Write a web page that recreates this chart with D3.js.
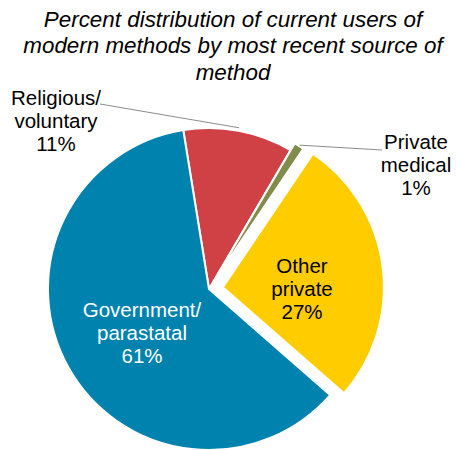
<!DOCTYPE html>
<html>
<head>
<meta charset="utf-8">
<script src="https://cdn.jsdelivr.net/npm/d3@7"></script>
<style>
  html, body { margin: 0; padding: 0; background: #fff; }
  svg { display: block; }
  text { font-family: "Liberation Sans", Arial, sans-serif; }
</style>
</head>
<body>
<svg id="chart" width="467" height="450"></svg>
<script>
// Source of method, in drawing order (clockwise from just left of 12 o'clock)
const categories = ["Religious/ voluntary", "Private medical", "Other private", "Government/ parastatal"];
const labelLines = [["Religious/", "voluntary"], ["Private", "medical"], ["Other", "private"], ["Government/", "parastatal"]];
const shares = [11, 1, 27, 61];
const titleLines = [
  "Percent distribution of current users of",
  "modern methods by most recent source of",
  "method"
];

const colors = ["#d04146", "#7f8c4a", "#ffcc00", "#0082ae"];
const explode = [0, 8, 14, 0];
const textColors = ["#000", "#000", "#000", "#fff"];

const width = 467, height = 450;
const cx = 209, cy = 289, radius = 161;
const startDeg = -9.2;

const svg = d3.select("#chart");

// Title
svg.append("text")
  .attr("x", 233)
  .attr("y", 27)
  .attr("text-anchor", "middle")
  .attr("font-size", 22.4)
  .attr("font-style", "italic")
  .attr("fill", "#000")
  .selectAll("tspan")
  .data(titleLines)
  .join("tspan")
  .attr("x", 233)
  .attr("dy", (d, i) => i === 0 ? 0 : 26.3)
  .text(d => d);

const data = categories.map((c, i) => ({ name: c, lines: labelLines[i], value: shares[i], color: colors[i], off: explode[i], tc: textColors[i] }));

const start = startDeg * Math.PI / 180;
const pie = d3.pie().sort(null).value(d => d.value).startAngle(start).endAngle(start + 2 * Math.PI);
const arcs = pie(data);
const arc = d3.arc().innerRadius(0).outerRadius(radius);

function offsetOf(a) {
  const mid = (a.startAngle + a.endAngle) / 2;
  return [Math.sin(mid) * a.data.off, -Math.cos(mid) * a.data.off];
}

const g = svg.append("g").attr("transform", `translate(${cx},${cy})`);

g.selectAll("path.slice")
  .data(arcs)
  .join("path")
  .attr("class", "slice")
  .attr("transform", a => { const o = offsetOf(a); return `translate(${o[0]},${o[1]})`; })
  .attr("d", arc)
  .attr("fill", a => a.data.color)
  .attr("stroke", "#fff")
  .attr("stroke-width", 2)
  .attr("stroke-linejoin", "round");

// Point on a slice's rim at its middle angle, in page coordinates
function rimPoint(a, r) {
  const mid = (a.startAngle + a.endAngle) / 2;
  const o = offsetOf(a);
  return [cx + o[0] + Math.sin(mid) * r, cy + o[1] - Math.cos(mid) * r];
}

// Label placement: centre x and first baseline of each text block
const labelPos = {
  "Religious/ voluntary": { x: 56, y: 105, leader: [100, 104], rim: 164 },
  "Private medical": { x: 416, y: 149, leader: [382, 150], rim: 162 },
  "Other private": { x: 302, y: 273 },
  "Government/ parastatal": { x: 142, y: 317 }
};
const lineGap = 22.8;
const fontSize = 20.5;

// Leader lines for the outside labels
arcs.forEach(a => {
  const p = labelPos[a.data.name];
  if (!p.leader) return;
  const end = rimPoint(a, p.rim);
  svg.append("line")
    .attr("x1", p.leader[0]).attr("y1", p.leader[1])
    .attr("x2", end[0]).attr("y2", end[1])
    .attr("stroke", "#8c8c8c")
    .attr("stroke-width", 1);
});

// Slice labels: name lines followed by the percentage
arcs.forEach(a => {
  const p = labelPos[a.data.name];
  const lines = a.data.lines.concat([d3.format("d")(a.data.value) + "%"]);
  svg.append("text")
    .attr("x", p.x)
    .attr("y", p.y)
    .attr("text-anchor", "middle")
    .attr("font-size", fontSize)
    .attr("fill", a.data.tc)
    .selectAll("tspan")
    .data(lines)
    .join("tspan")
    .attr("x", p.x)
    .attr("dy", (d, i) => i === 0 ? 0 : lineGap)
    .text(d => d);
});
</script>
</body>
</html>
